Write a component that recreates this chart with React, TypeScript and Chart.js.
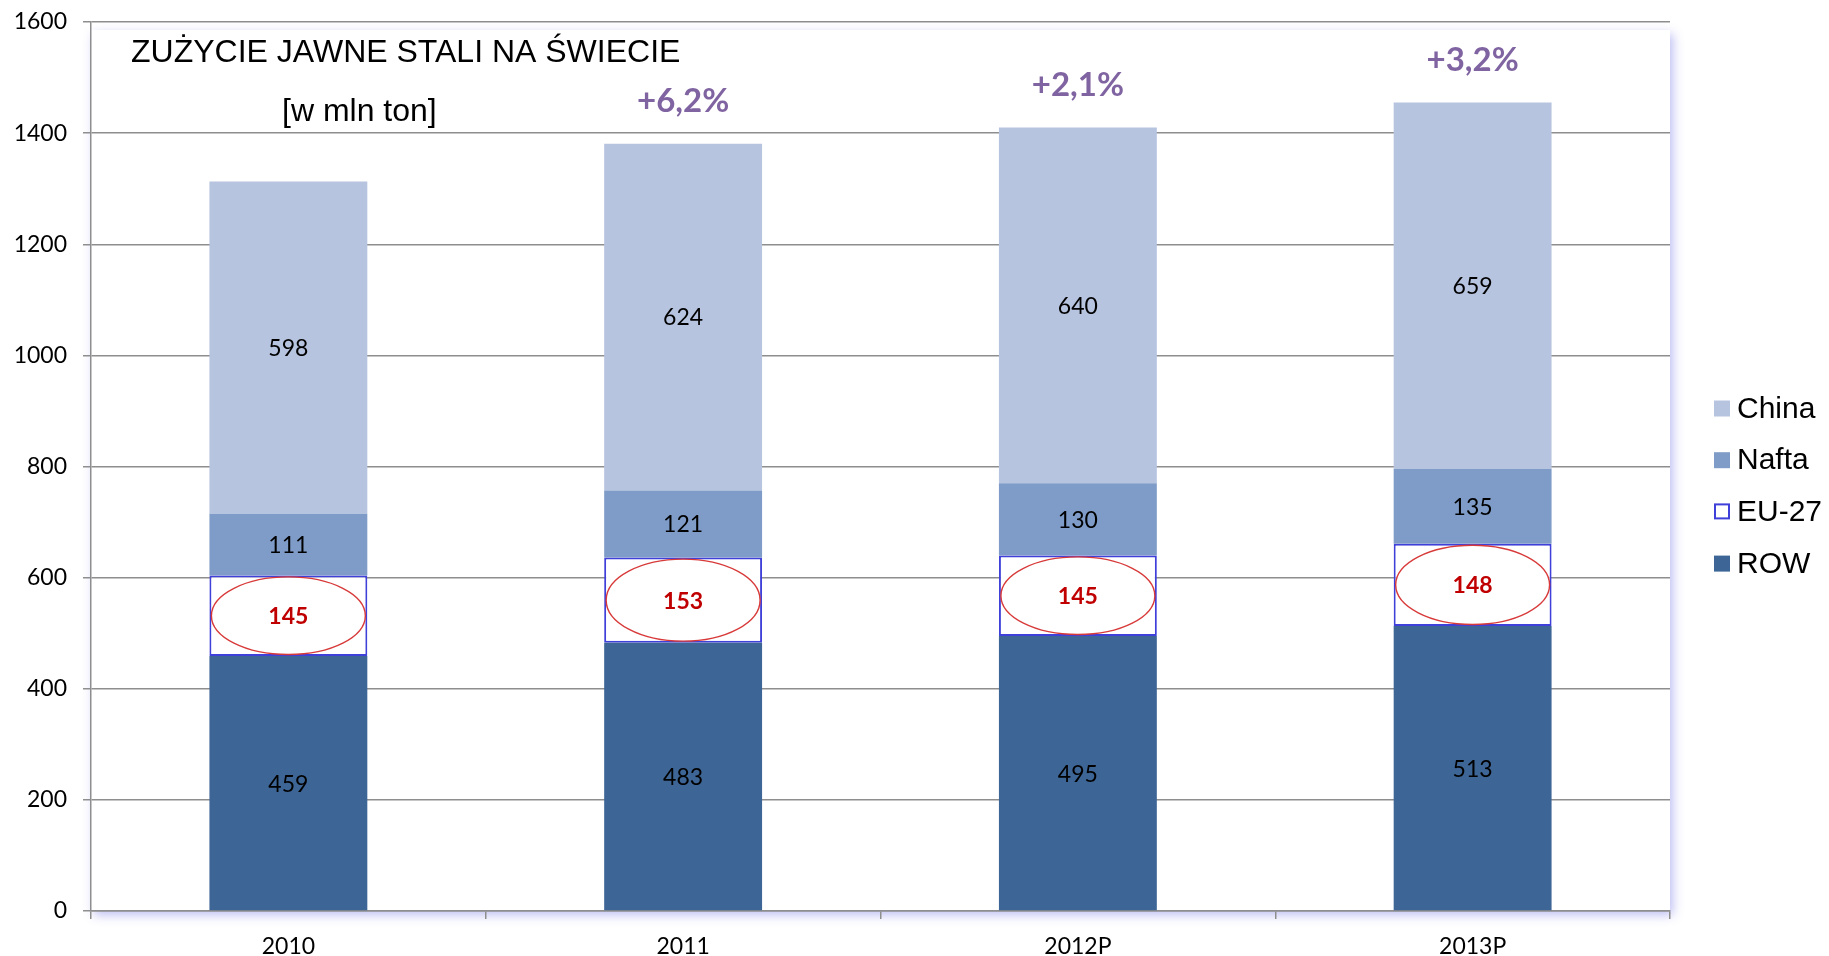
import React, { useEffect, useRef } from 'react';
import { Chart, registerables } from 'chart.js';

Chart.register(...registerables);

const categories = ['2010', '2011', '2012P', '2013P'];
const rowValues = [459, 483, 495, 513];
const euValues = [145, 153, 145, 148];
const naftaValues = [111, 121, 130, 135];
const chinaValues = [598, 624, 640, 659];
const growthLabels = ['', '+6,2%', '+2,1%', '+3,2%'];
const titleText = 'ZUŻYCIE JAWNE STALI NA ŚWIECIE';
const subtitleText = '[w mln ton]';
const legendOrder = [3, 2, 1, 0];

const GRID = '#8e8e8e';
const COL_ROW = '#3d6595';
const COL_NAFTA = '#7f9cc8';
const COL_CHINA = '#b7c4df';
const COL_EU_BORDER = '#3f3fd9';

const shadowPlugin = {
  id: 'areaShadow',
  beforeDraw(chart: any) {
    const { ctx, chartArea: a } = chart;
    ctx.save();
    ctx.shadowColor = 'rgba(110,110,230,0.45)';
    ctx.shadowBlur = 10;
    ctx.shadowOffsetX = 3;
    ctx.shadowOffsetY = 4;
    ctx.fillStyle = '#ffffff';
    ctx.fillRect(a.left, a.top + 8, a.width, a.height - 8);
    ctx.restore();
  },
};

const labelPlugin = {
  id: 'segLabels',
  afterDatasetsDraw(chart: any) {
    const { ctx } = chart;
    ctx.save();
    ctx.textAlign = 'center';
    ctx.textBaseline = 'middle';
    chart.data.datasets.forEach((ds: any, di: number) => {
      const meta = chart.getDatasetMeta(di);
      meta.data.forEach((bar: any, i: number) => {
        const mid = (bar.y + bar.base) / 2;
        const v = ds.data[i];
        if (ds.label === 'EU-27') {
          const w = bar.width;
          const h = Math.abs(bar.base - bar.y);
          ctx.beginPath();
          ctx.ellipse(bar.x, mid, w / 2 - 2, h / 2 - 1.5, 0, 0, Math.PI * 2);
          ctx.strokeStyle = '#d83a3a';
          ctx.lineWidth = 1.4;
          ctx.stroke();
          ctx.fillStyle = '#c00000';
          ctx.font = 'bold 23px Lato';
          ctx.fillText(String(v), bar.x, mid + 1);
        } else {
          ctx.fillStyle = '#000000';
          ctx.font = '23px Lato';
          ctx.fillText(String(v), bar.x, mid + 1);
        }
      });
    });
    const topMeta = chart.getDatasetMeta(chart.data.datasets.length - 1);
    ctx.fillStyle = '#8064a2';
    ctx.font = 'bold 33px Lato';
    topMeta.data.forEach((bar: any, i: number) => {
      if (growthLabels[i]) ctx.fillText(growthLabels[i], bar.x, bar.y - 42);
    });
    ctx.restore();
  },
};

const textPlugin = {
  id: 'titleText',
  afterDraw(chart: any) {
    const { ctx } = chart;
    ctx.save();
    ctx.fillStyle = '#000';
    ctx.textBaseline = 'middle';
    ctx.textAlign = 'left';
    ctx.font = '32px "Liberation Sans", Arial, sans-serif';
    ctx.fillText(titleText, 131, 53);
    ctx.fillText(subtitleText, 282, 112);
    ctx.restore();
  },
};

const legendPlugin = {
  id: 'customLegend',
  afterDraw(chart: any) {
    const { ctx } = chart;
    ctx.save();
    ctx.textBaseline = 'middle';
    ctx.textAlign = 'left';
    ctx.font = '30px "Liberation Sans", Arial, sans-serif';
    legendOrder.forEach((di, k) => {
      const ds = chart.data.datasets[di];
      const y = 408.5 + k * 51.7;
      if (ds.label === 'EU-27') {
        ctx.fillStyle = '#fff';
        ctx.fillRect(1715, y - 7.5, 14, 14);
        ctx.strokeStyle = COL_EU_BORDER;
        ctx.lineWidth = 2;
        ctx.strokeRect(1715, y - 7.5, 14, 14);
      } else {
        ctx.fillStyle = ds.backgroundColor;
        ctx.fillRect(1714, y - 8, 16, 16);
      }
      ctx.fillStyle = '#000';
      ctx.fillText(ds.label, 1737, y + 1);
    });
    ctx.restore();
  },
};

export default function App() {
  const ref = useRef<HTMLCanvasElement>(null);
  useEffect(() => {
    if (!ref.current) return;
    const chart = new Chart(ref.current, {
      type: 'bar',
      data: {
        labels: categories,
        datasets: [
          { label: 'ROW', data: rowValues, backgroundColor: COL_ROW, borderWidth: 0 },
          {
            label: 'EU-27',
            data: euValues,
            backgroundColor: '#ffffff',
            borderColor: COL_EU_BORDER,
            borderWidth: 2,
            borderSkipped: false,
          },
          { label: 'Nafta', data: naftaValues, backgroundColor: COL_NAFTA, borderWidth: 0 },
          { label: 'China', data: chinaValues, backgroundColor: COL_CHINA, borderWidth: 0 },
        ],
      },
      options: {
        responsive: false,
        animation: false,
        devicePixelRatio: 1,
        layout: { padding: { left: 0, top: 22, right: 159, bottom: 0 } },
        datasets: { bar: { barPercentage: 0.4, categoryPercentage: 1.0 } },
        plugins: { legend: { display: false }, tooltip: { enabled: false }, title: { display: false } },
        scales: {
          x: {
            stacked: true,
            grid: { offset: true, drawOnChartArea: false, drawTicks: true, tickLength: 8, color: GRID, lineWidth: 1.5 },
            border: { color: GRID, width: 1.5 },
            ticks: { color: '#000', font: { family: 'Lato', size: 23 }, padding: 14 },
            afterFit: (s: any) => { s.height = 45; s.paddingLeft = 0; s.paddingRight = 0; },
          },
          y: {
            stacked: true,
            min: 0,
            max: 1600,
            ticks: {
              stepSize: 200,
              color: '#000',
              font: { family: 'Lato', size: 23 },
              padding: 16,
              callback: (v: any) => String(v),
            },
            grid: { color: GRID, lineWidth: 1.5, tickLength: 8, drawTicks: true },
            border: { color: GRID, width: 1.5 },
            afterFit: (s: any) => { s.width = 91; s.paddingTop = 0; s.paddingBottom = 0; },
          },
        },
      },
      plugins: [shadowPlugin, labelPlugin, textPlugin, legendPlugin],
    });
    return () => chart.destroy();
  }, []);
  return (
    <div style={{ position: 'absolute', left: 0, top: 0, width: 1829, height: 956 }}>
      <canvas ref={ref} width={1829} height={956} />
    </div>
  );
}
